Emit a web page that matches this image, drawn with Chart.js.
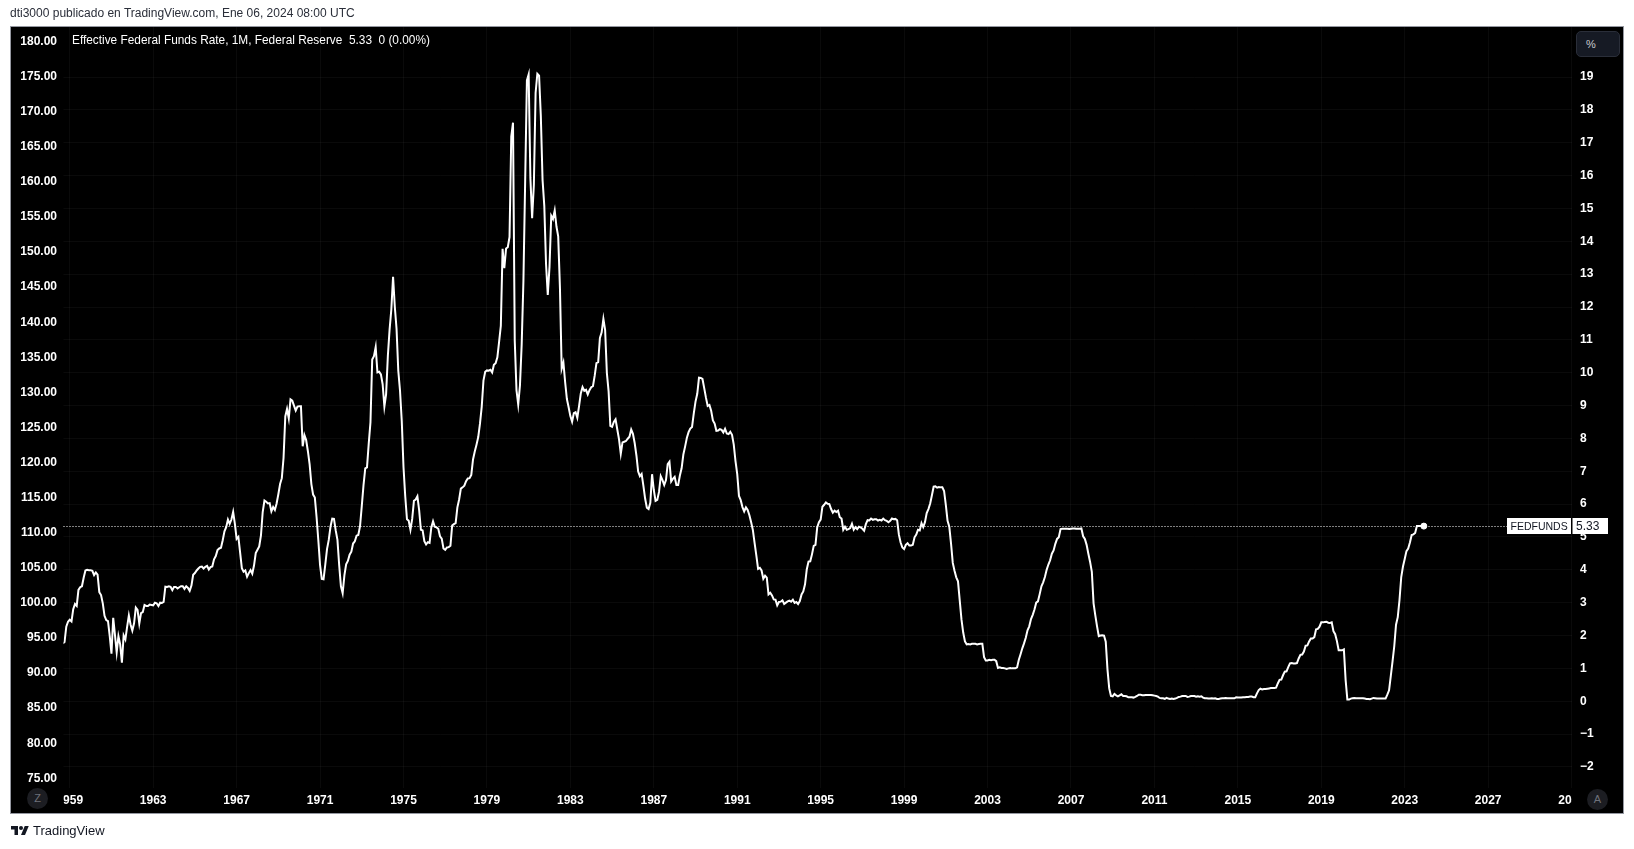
<!DOCTYPE html>
<html>
<head>
<meta charset="utf-8">
<script src="https://cdn.jsdelivr.net/npm/chart.js@4.4.1/dist/chart.umd.min.js"></script>
<style>
  body { margin: 0; background: #fff; width: 1634px; height: 849px; overflow: hidden; position: relative;
         font-family: "Liberation Sans", Arial, sans-serif; }
  #chart { position: absolute; left: 0; top: 0; }
  .header { position: absolute; left: 10px; top: 6px; font-size: 12px; color: #2a2e39; }
  .legend { position: absolute; left: 72px; top: 33px; font-size: 11.85px; color: #fff; white-space: pre; }
  .pct { position: absolute; left: 1576px; top: 31px; width: 44px; height: 26px; box-sizing: border-box;
         background: #161a24; border: 1px solid #2a2e39; border-radius: 5px; color: #c8cad0;
         font-size: 11px; line-height: 24px; padding-left: 9px; }
  .round { position: absolute; width: 21px; height: 21px; border-radius: 50%; background: #1c1d22;
           color: #6f717a; font-size: 11px; line-height: 21px; text-align: center; }
  .footer { position: absolute; left: 10px; top: 823px; font-size: 13px; color: #131722; display: flex; align-items: center; gap: 3px; }
</style>
</head>
<body>
<canvas id="chart" width="1634" height="849"></canvas>
<div class="header">dti3000 publicado en TradingView.com, Ene 06, 2024 08:00 UTC</div>
<div class="legend">Effective Federal Funds Rate, 1M, Federal Reserve  5.33  0 (0.00%)</div>
<div class="pct">%</div>
<div class="round" style="left:27px;top:788px">Z</div>
<div class="round" style="left:1587px;top:789px">A</div>
<div class="footer">
  <svg width="20" height="14" viewBox="0 0 36 28"><path d="M14 22H7V11H0V4h14v18zM28 22h-8l7.5-18h8L28 22z" fill="#131722"/><circle cx="20" cy="8" r="4" fill="#131722"/></svg>
  <span>TradingView</span>
</div>
<script>
// monthly effective fed funds rate, first value = Sep 1958
const firstMonth = 1958 + 8 / 12;
const rates1950s = [1.76, 1.80, 2.27, 2.42,
  2.48, 2.43, 2.80, 2.96, 2.90, 3.39, 3.47, 3.50, 3.76, 3.98, 4.00, 3.99];
const rates1960s = [
  3.99, 3.97, 3.84, 3.92, 3.85, 3.32, 3.23, 2.98, 2.60, 2.47, 2.44, 1.98,
  1.45, 2.54, 2.02, 1.49, 1.98, 1.73, 1.17, 2.00, 1.88, 2.26, 2.61, 2.33,
  2.15, 2.37, 2.85, 2.78, 2.36, 2.68, 2.71, 2.93, 2.90, 2.90, 2.94, 2.93,
  2.92, 3.00, 2.98, 2.90, 3.00, 2.99, 3.02, 3.49, 3.48, 3.50, 3.48, 3.38,
  3.48, 3.48, 3.43, 3.47, 3.50, 3.50, 3.42, 3.50, 3.45, 3.36, 3.52, 3.85,
  3.90, 3.98, 4.04, 4.09, 4.10, 4.04, 4.09, 4.12, 4.01, 4.08, 4.10, 4.32,
  4.42, 4.60, 4.65, 4.67, 4.90, 5.17, 5.30, 5.53, 5.40, 5.53, 5.76, 5.40,
  4.94, 5.00, 4.53, 4.05, 3.94, 3.98, 3.79, 3.90, 3.99, 3.88, 4.13, 4.51,
  4.61, 4.71, 5.05, 5.76, 6.11, 6.07, 6.02, 6.03, 5.78, 5.91, 5.82, 6.02,
  6.30, 6.61, 6.79, 7.41, 8.67, 8.90, 8.61, 9.19, 9.15, 9.00, 8.85, 8.97];
const rates1970s = [
  8.98, 8.98, 7.76, 8.10, 7.95, 7.61, 7.21, 6.61, 6.29, 6.20, 5.60, 4.90,
  4.14, 3.72, 3.71, 4.16, 4.63, 4.91, 5.31, 5.56, 5.55, 5.20, 4.91, 4.14,
  3.50, 3.29, 3.83, 4.17, 4.27, 4.46, 4.55, 4.80, 4.87, 5.04, 5.06, 5.33,
  5.94, 6.58, 7.09, 7.12, 7.84, 8.49, 10.40, 10.50, 10.78, 10.01, 10.03, 9.95,
  9.65, 8.97, 9.35, 10.51, 11.31, 11.93, 12.92, 12.01, 11.34, 10.06, 9.45, 8.53,
  7.13, 6.24, 5.54, 5.49, 5.22, 5.55, 6.10, 6.14, 6.24, 5.82, 5.22, 5.20,
  4.87, 4.77, 4.84, 4.82, 5.29, 5.48, 5.31, 5.29, 5.25, 5.02, 4.95, 4.65,
  4.61, 4.68, 4.69, 4.73, 5.35, 5.39, 5.42, 5.90, 6.14, 6.47, 6.51, 6.56,
  6.70, 6.78, 6.79, 6.89, 7.36, 7.60, 7.81, 8.04, 8.45, 8.96, 9.76, 10.03,
  10.07, 10.06, 10.09, 10.01, 10.24, 10.29, 10.47, 10.94, 11.43, 13.77, 13.18, 13.78];
const rates1980s = [
  13.82, 14.13, 17.19, 17.61, 10.98, 9.47, 9.03, 9.61, 10.87, 12.81, 15.85, 18.90,
  19.08, 15.93, 14.70, 15.72, 18.52, 19.10, 19.04, 17.82, 15.87, 15.08, 13.31, 12.37,
  13.22, 14.78, 14.68, 14.94, 14.45, 14.15, 12.59, 10.12, 10.31, 9.71, 9.20, 8.95,
  8.68, 8.51, 8.77, 8.80, 8.63, 8.98, 9.37, 9.56, 9.45, 9.48, 9.34, 9.47,
  9.56, 9.59, 9.91, 10.29, 10.32, 11.06, 11.23, 11.64, 11.30, 9.99, 9.43, 8.38,
  8.35, 8.50, 8.58, 8.27, 7.97, 7.53, 7.88, 7.90, 7.92, 7.99, 8.05, 8.27,
  8.14, 7.86, 7.48, 6.99, 6.85, 6.92, 6.56, 6.17, 5.89, 5.85, 6.04, 6.91,
  6.43, 6.10, 6.13, 6.37, 6.85, 6.73, 6.58, 6.73, 7.22, 7.29, 6.69, 6.77,
  6.83, 6.58, 6.58, 6.87, 7.09, 7.51, 7.75, 8.01, 8.19, 8.30, 8.35, 8.76,
  9.12, 9.36, 9.85, 9.84, 9.81, 9.53, 9.24, 8.99, 9.02, 8.84, 8.55, 8.45];
const rates1990s = [
  8.23, 8.24, 8.28, 8.26, 8.18, 8.29, 8.15, 8.13, 8.20, 8.11, 7.81, 7.31,
  6.91, 6.25, 6.12, 5.91, 5.78, 5.90, 5.82, 5.66, 5.45, 5.21, 4.81, 4.43,
  4.03, 4.06, 3.98, 3.73, 3.82, 3.76, 3.25, 3.30, 3.22, 3.10, 3.09, 2.92,
  3.02, 3.03, 3.07, 2.96, 3.00, 3.04, 3.06, 3.03, 3.09, 2.99, 3.02, 2.96,
  3.05, 3.25, 3.34, 3.56, 4.01, 4.25, 4.26, 4.47, 4.73, 4.76, 5.29, 5.45,
  5.53, 5.92, 5.98, 6.05, 6.01, 6.00, 5.85, 5.74, 5.80, 5.76, 5.80, 5.60,
  5.56, 5.22, 5.31, 5.22, 5.24, 5.27, 5.40, 5.22, 5.30, 5.24, 5.31, 5.29,
  5.25, 5.19, 5.39, 5.51, 5.50, 5.56, 5.52, 5.54, 5.54, 5.50, 5.52, 5.50,
  5.56, 5.51, 5.49, 5.45, 5.49, 5.56, 5.54, 5.55, 5.51, 5.07, 4.83, 4.68,
  4.63, 4.76, 4.81, 4.74, 4.74, 4.76, 4.99, 5.07, 5.22, 5.20, 5.42, 5.30];
const rates2000s = [
  5.45, 5.73, 5.85, 6.02, 6.27, 6.53, 6.54, 6.50, 6.52, 6.51, 6.51, 6.40,
  5.98, 5.49, 5.31, 4.80, 4.21, 3.97, 3.77, 3.65, 3.07, 2.49, 2.09, 1.82,
  1.73, 1.74, 1.73, 1.75, 1.75, 1.75, 1.73, 1.74, 1.75, 1.75, 1.34, 1.24,
  1.24, 1.26, 1.25, 1.26, 1.26, 1.22, 1.01, 1.03, 1.01, 1.01, 1.00, 0.98,
  1.00, 1.01, 1.00, 1.00, 1.00, 1.03, 1.26, 1.43, 1.61, 1.76, 1.93, 2.16,
  2.28, 2.50, 2.63, 2.79, 3.00, 3.04, 3.26, 3.50, 3.62, 3.78, 4.00, 4.16,
  4.29, 4.49, 4.59, 4.79, 4.94, 4.99, 5.24, 5.25, 5.25, 5.25, 5.25, 5.24,
  5.25, 5.26, 5.26, 5.25, 5.25, 5.25, 5.26, 5.02, 4.94, 4.76, 4.49, 4.24,
  3.94, 2.98, 2.61, 2.28, 1.98, 2.00, 2.01, 2.00, 1.81, 0.97, 0.39, 0.16,
  0.15, 0.22, 0.18, 0.15, 0.18, 0.21, 0.16, 0.16, 0.15, 0.12, 0.12, 0.12];
const rates2010s = [
  0.11, 0.13, 0.16, 0.20, 0.20, 0.18, 0.18, 0.19, 0.19, 0.19, 0.19, 0.18,
  0.17, 0.16, 0.14, 0.10, 0.09, 0.09, 0.07, 0.10, 0.08, 0.07, 0.08, 0.07,
  0.08, 0.10, 0.13, 0.14, 0.16, 0.16, 0.16, 0.13, 0.14, 0.16, 0.16, 0.16,
  0.14, 0.15, 0.14, 0.15, 0.11, 0.09, 0.09, 0.08, 0.08, 0.09, 0.08, 0.09,
  0.07, 0.07, 0.08, 0.09, 0.09, 0.10, 0.09, 0.09, 0.09, 0.09, 0.09, 0.12,
  0.11, 0.11, 0.11, 0.12, 0.12, 0.13, 0.13, 0.14, 0.14, 0.12, 0.12, 0.24,
  0.34, 0.38, 0.36, 0.37, 0.37, 0.38, 0.39, 0.40, 0.40, 0.40, 0.41, 0.54,
  0.65, 0.66, 0.79, 0.90, 0.91, 1.04, 1.15, 1.16, 1.15, 1.15, 1.16, 1.30,
  1.41, 1.42, 1.51, 1.69, 1.70, 1.82, 1.91, 1.91, 1.95, 2.19, 2.20, 2.27,
  2.40, 2.40, 2.41, 2.42, 2.39, 2.38, 2.40, 2.13, 2.04, 1.83, 1.55, 1.55];
const rates2020s = [
  1.55, 1.58, 0.65, 0.05, 0.05, 0.08, 0.09, 0.10, 0.09, 0.09, 0.09, 0.09,
  0.09, 0.08, 0.07, 0.07, 0.06, 0.08, 0.10, 0.09, 0.08, 0.08, 0.08, 0.08,
  0.08, 0.08, 0.20, 0.33, 0.77, 1.21, 1.68, 2.33, 2.56, 3.08, 3.78, 4.10,
  4.33, 4.57, 4.65, 4.83, 5.06, 5.08, 5.12, 5.33, 5.33, 5.33, 5.33, 5.33];

const yearTicks = [1959, 1963, 1967, 1971, 1975, 1979, 1983, 1987, 1991, 1995, 1999, 2003, 2007, 2011, 2015, 2019, 2023, 2027, 2031];
const pctTicks = [-2, -1, 0, 1, 2, 3, 4, 5, 6, 7, 8, 9, 10, 11, 12, 13, 14, 15, 16, 17, 18, 19];
const leftTicks = [75, 80, 85, 90, 95, 100, 105, 110, 115, 120, 125, 130, 135, 140, 145, 150, 155, 160, 165, 170, 175, 180];
const seriesName = "FEDFUNDS";

const allRates = [].concat(rates1950s, rates1960s, rates1970s, rates1980s, rates1990s, rates2000s, rates2010s, rates2020s);
const points = allRates.map((v, i) => ({ x: firstMonth + i / 12, y: v }));
const lastPoint = points[points.length - 1];

const tickFont = { family: "Liberation Sans", size: 12, weight: "bold" };

const paneBg = {
  id: "paneBg",
  beforeDraw(chart) {
    const c = chart.ctx;
    c.save();
    c.fillStyle = "#fff";
    c.fillRect(0, 0, chart.width, chart.height);
    c.fillStyle = "#000";
    c.fillRect(11, 27, 1612, 786);
    c.strokeStyle = "#9598a1";
    c.lineWidth = 1;
    c.strokeRect(10.5, 26.5, 1613, 787);
    c.restore();
  },
  afterLayout(chart) {
    const xs = chart.scales.x;
    if (xs._clipped) return;
    const orig = xs.drawLabels;
    xs.drawLabels = function (area) {
      const c = this.ctx, a = chart.chartArea;
      c.save();
      c.beginPath();
      c.rect(a.left, this.top, a.right - a.left, this.height);
      c.clip();
      orig.call(this, area);
      c.restore();
    };
    xs._clipped = true;
  },
  afterDraw(chart) {
    const c = chart.ctx, a = chart.chartArea;
    const y = Math.round(chart.scales.yR.getPixelForValue(lastPoint.y)) + 0.5;
    c.save();
    c.strokeStyle = "#fff";
    c.lineWidth = 1;
    c.setLineDash([1, 2]);
    c.beginPath();
    c.moveTo(a.left, y);
    c.lineTo(1507, y);
    c.stroke();
    c.setLineDash([]);
    c.fillStyle = "#fff";
    c.fillRect(1507, y - 8.5, 101, 16);
    c.fillStyle = "#000";
    c.fillRect(1571, y - 8.5, 1.5, 16);
    c.fillStyle = "#131722";
    c.textBaseline = "middle";
    c.font = "10.5px 'Liberation Sans'";
    c.fillText(seriesName, 1510.5, y + 0.5);
    c.font = "12px 'Liberation Sans'";
    c.fillText(lastPoint.y.toFixed(2), 1576, y + 0.5);
    c.restore();
  }
};

new Chart(document.getElementById("chart"), {
  type: "line",
  data: {
    datasets: [
      { data: points, yAxisID: "yR", borderColor: "#fff", borderWidth: 2, pointRadius: 0, tension: 0 },
      { data: [lastPoint], yAxisID: "yR", borderColor: "#fff", backgroundColor: "#fff", pointRadius: 3, showLine: false }
    ]
  },
  options: {
    responsive: false,
    animation: false,
    devicePixelRatio: 1,
    layout: { padding: { left: 11, right: 11, top: 27, bottom: 36 } },
    plugins: { legend: { display: false }, tooltip: { enabled: false } },
    scales: {
      x: {
        type: "linear", min: 1958.70, max: 2031.02,
        afterBuildTicks: s => { s.ticks = yearTicks.map(v => ({ value: v })); },
        afterFit: s => { s.height = 25; },
        grid: { color: "rgba(255,255,255,0.04)", drawTicks: false },
        border: { display: false },
        ticks: { color: "#fff", font: tickFont, padding: 5, autoSkip: false, maxRotation: 0,
                 callback: v => String(v) }
      },
      yL: {
        type: "linear", position: "left", min: 73.62, max: 182.08,
        afterBuildTicks: s => { s.ticks = leftTicks.map(v => ({ value: v })); },
        afterFit: s => { s.width = 52.5; },
        grid: { display: false, drawTicks: false },
        border: { display: false },
        ticks: { color: "#fff", font: tickFont, padding: 6.5, autoSkip: false, callback: v => v.toFixed(2) }
      },
      yR: {
        type: "linear", position: "right", min: -2.642, max: 20.524,
        afterBuildTicks: s => { s.ticks = pctTicks.map(v => ({ value: v })); },
        afterFit: s => { s.width = 51; },
        grid: { color: "rgba(255,255,255,0.04)", drawTicks: false },
        border: { display: false },
        ticks: { color: "#fff", font: tickFont, padding: 8, autoSkip: false,
                 callback: v => v < 0 ? "\u2212" + Math.abs(v) : String(v) }
      }
    }
  },
  plugins: [paneBg]
});
</script>
</body>
</html>
